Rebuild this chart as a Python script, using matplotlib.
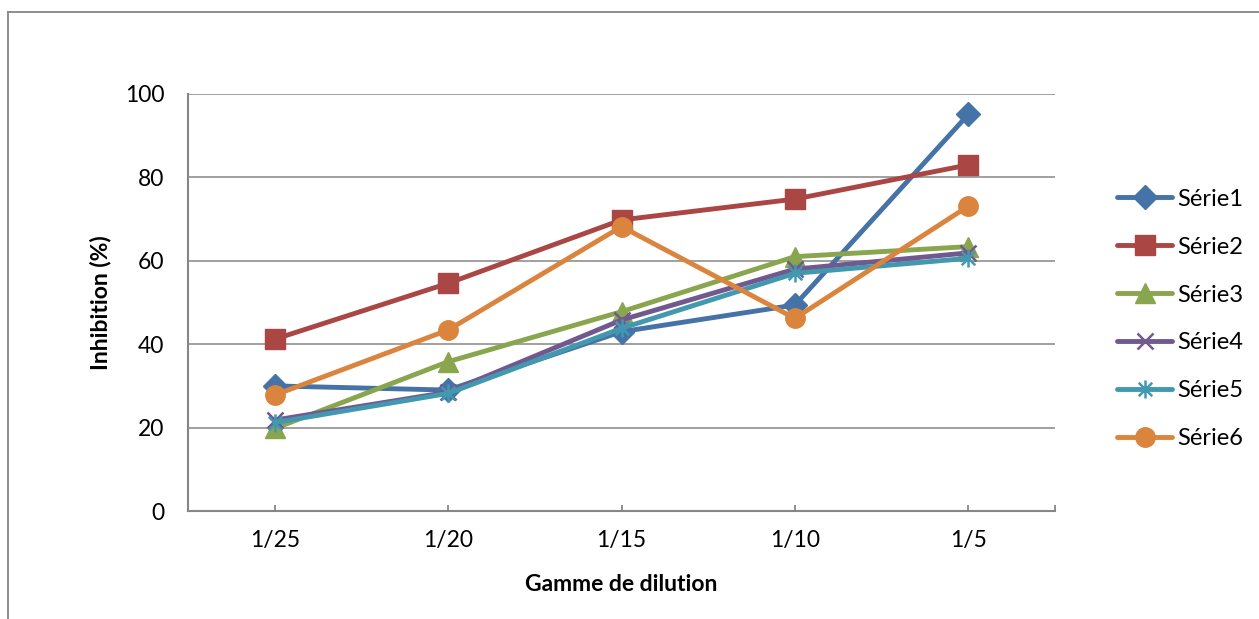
import matplotlib
matplotlib.use("Agg")
import matplotlib.pyplot as plt
from matplotlib.path import Path
from matplotlib.lines import Line2D

# Dilution levels and inhibition (%) per series
categories = ["1/25", "1/20", "1/15", "1/10", "1/5"]
serie1 = [30.0, 29.0, 43.0, 49.4, 95.1]
serie2 = [41.2, 54.6, 69.8, 74.8, 83.0]
serie3 = [19.8, 35.8, 47.8, 61.0, 63.4]
serie4 = [21.8, 28.5, 45.8, 58.0, 61.9]
serie5 = [21.2, 28.2, 43.8, 57.0, 60.6]
serie6 = [27.8, 43.4, 68.2, 46.2, 73.1]
series_names = ["Série1", "Série2", "Série3", "Série4", "Série5", "Série6"]
y_ticks = [0, 20, 40, 60, 80, 100]

plt.rcParams["font.family"] = ["Lato", "DejaVu Sans"]

# asterisk marker: x with a vertical bar
star_path = Path(
    [(0, -1), (0, 1), (-0.75, -0.75), (0.75, 0.75), (-0.75, 0.75), (0.75, -0.75)],
    [Path.MOVETO, Path.LINETO] * 3,
)

styles = [
    dict(color="#4572A7", marker="D", ms=12),
    dict(color="#AA4643", marker="s", ms=14),
    dict(color="#89A54E", marker="^", ms=14),
    dict(color="#71588F", marker="x", ms=12, mew=1.8),
    dict(color="#4198AF", marker=star_path, ms=13, mew=1.8),
    dict(color="#DB843D", marker="o", ms=14),
]

W, H = 1259, 619
fig = plt.figure(figsize=(W / 100, H / 100), dpi=100)
ax = fig.add_axes([188 / W, 1 - 511 / H, 867 / W, 417 / H])

grey = "#868686"
x = list(range(len(categories)))
data = [serie1, serie2, serie3, serie4, serie5, serie6]
for vals, name, st in zip(data, series_names, styles):
    kw = dict(st)
    color = kw.pop("color")
    ax.plot(x, vals, color=color, lw=3.5, label=name,
            markerfacecolor=color, markeredgecolor=color,
            solid_capstyle="round", solid_joinstyle="round", clip_on=False, **kw)

ax.set_xlim(-0.5, 4.5)
ax.set_ylim(0, 100)
ax.set_yticks(y_ticks)
ax.set_xticks(x)
ax.set_xticks([4.5], minor=True)
ax.set_xticklabels(categories)
ax.yaxis.grid(True, color=grey, lw=1.1)
ax.set_axisbelow(True)

for side in ("top", "right"):
    ax.spines[side].set_visible(False)
for side in ("left", "bottom"):
    ax.spines[side].set_color(grey)
    ax.spines[side].set_linewidth(1.5)

ax.tick_params(axis="y", length=0, pad=17, labelsize=16.5)
ax.tick_params(axis="x", which="both", direction="in", length=4.5, width=1.3,
               color=grey, pad=14, labelsize=16.5)

ax.set_xlabel("Gamme de dilution", fontsize=16.5, fontweight="bold")
ax.xaxis.set_label_coords(0.5, -0.177)
ax.xaxis.label.set_va("center")
ax.set_ylabel("Inhibition (%)", fontsize=16.5, fontweight="bold")
ax.yaxis.set_label_coords((100 - 188) / 867, 0.5)
ax.yaxis.label.set_va("center")

ax.legend(loc="center left", bbox_to_anchor=(1117 / W, 1 - 319 / H),
          bbox_transform=fig.transFigure, frameon=False, fontsize=17,
          handlelength=2.35, handletextpad=0.2, labelspacing=1.14,
          borderpad=0, borderaxespad=0)

# outer chart frame
fig.add_artist(Line2D([8 / W, 8 / W], [0, 1 - 12 / H], color=grey, lw=1.3,
                      transform=fig.transFigure))
fig.add_artist(Line2D([8 / W, 1], [1 - 12 / H, 1 - 12 / H], color=grey, lw=1.3,
                      transform=fig.transFigure))

fig.savefig("out.png", dpi=100)
